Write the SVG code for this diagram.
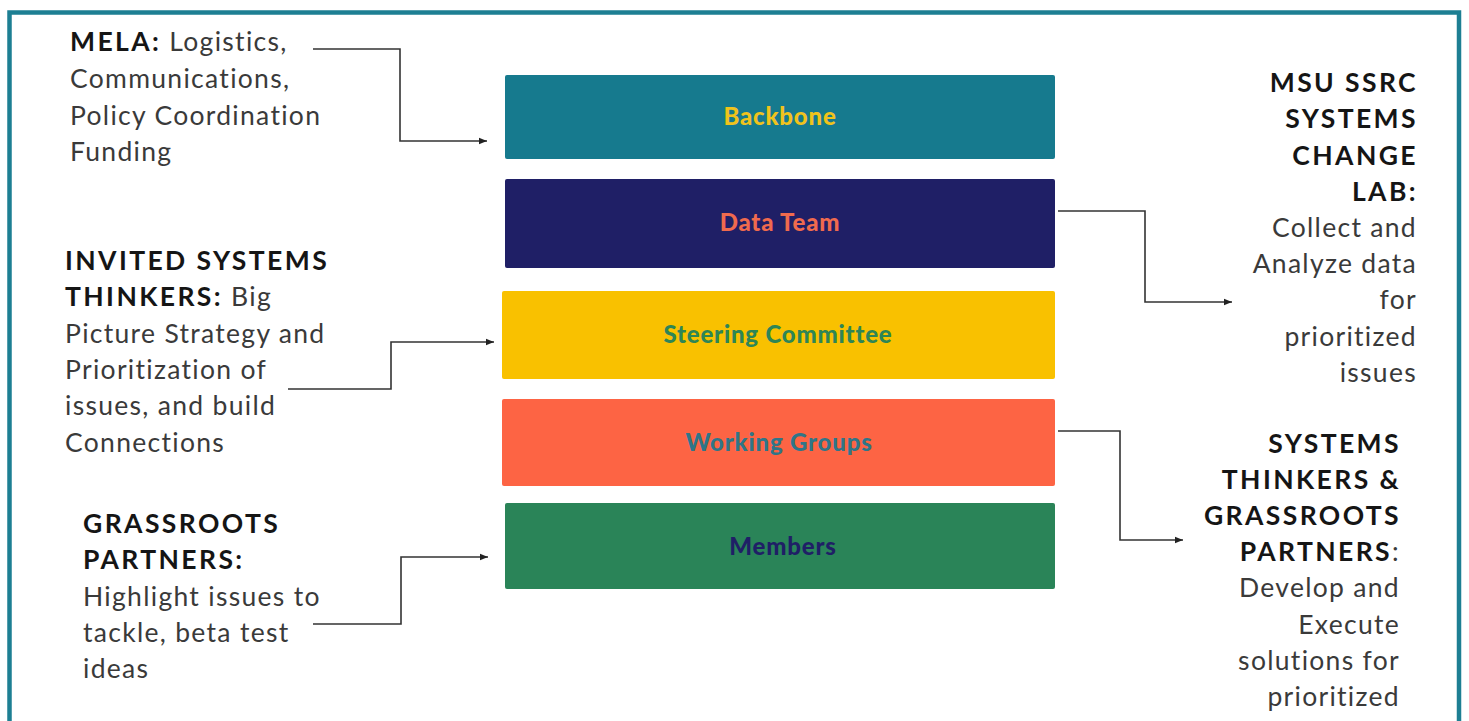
<svg xmlns="http://www.w3.org/2000/svg" width="1469" height="721" viewBox="0 0 1469 721">
<style>
.frame{fill:none;stroke:#1d7f93;stroke-width:4.5}
.lbl{font-family:Lato,"Liberation Sans",sans-serif;font-size:26.5px;fill:#3a3a3a;letter-spacing:1.3px}
.b{font-weight:bold;fill:#151515;letter-spacing:2.4px}
.box{font-family:Lato,"Liberation Sans",sans-serif;font-size:24px;font-weight:900;text-anchor:middle;letter-spacing:0.8px}
.r{text-anchor:end}
.conn path{fill:none;stroke:#333;stroke-width:1.6}
</style>
<defs>
<marker id="ah" viewBox="0 0 10 10" refX="10" refY="5" markerWidth="10" markerHeight="8" markerUnits="userSpaceOnUse" orient="auto">
<path d="M0,1 L10,5 L0,9 z" fill="#222"/>
</marker>
</defs>
<rect width="1469" height="721" fill="#fff"/>
<rect class="frame" x="9.5" y="12.5" width="1449.5" height="740"/>

<g id="backbone">
<rect x="505" y="75" width="550" height="84" rx="2" fill="#167a8e"/>
<text class="box" x="780" y="125" fill="#f0c31c">Backbone</text>
</g>
<g id="data-team">
<rect x="505" y="179" width="550" height="89" rx="2" fill="#1f1f66"/>
<text class="box" x="780" y="231" fill="#f06a4e">Data Team</text>
</g>
<g id="steering-committee">
<rect x="502" y="291" width="553" height="88" rx="2" fill="#f9c100"/>
<text class="box" x="778" y="343" fill="#2e8556">Steering Committee</text>
</g>
<g id="working-groups">
<rect x="502" y="399" width="553" height="87" rx="2" fill="#fd6444"/>
<text class="box" x="779" y="451" fill="#2f7588">Working Groups</text>
</g>
<g id="members">
<rect x="505" y="503" width="550" height="86" rx="2" fill="#2a8458"/>
<text class="box" x="783" y="555" fill="#1f1f66">Members</text>
</g>

<g id="mela">
<text class="lbl" x="70" y="51"><tspan class="b">MELA:</tspan> Logistics,</text>
<text class="lbl" x="70" y="88">Communications,</text>
<text class="lbl" x="70" y="125">Policy Coordination</text>
<text class="lbl" x="70" y="161">Funding</text>
</g>
<g id="invited-systems-thinkers">
<text class="lbl" x="65" y="270"><tspan class="b">INVITED SYSTEMS</tspan></text>
<text class="lbl" x="65" y="306"><tspan class="b">THINKERS:</tspan> Big</text>
<text class="lbl" x="65" y="343">Picture Strategy and</text>
<text class="lbl" x="65" y="379">Prioritization of</text>
<text class="lbl" x="65" y="415">issues, and build</text>
<text class="lbl" x="65" y="452">Connections</text>
</g>
<g id="grassroots-partners">
<text class="lbl b" x="83" y="533">GRASSROOTS</text>
<text class="lbl b" x="83" y="569">PARTNERS:</text>
<text class="lbl" x="83" y="606">Highlight issues to</text>
<text class="lbl" x="83" y="642">tackle, beta test</text>
<text class="lbl" x="83" y="678">ideas</text>
</g>
<g id="msu-ssrc">
<text class="lbl b r" x="1418" y="92">MSU SSRC</text>
<text class="lbl b r" x="1418" y="128">SYSTEMS</text>
<text class="lbl b r" x="1418" y="165">CHANGE</text>
<text class="lbl b r" x="1418" y="201">LAB:</text>
<text class="lbl r" x="1417" y="237">Collect and</text>
<text class="lbl r" x="1417" y="273">Analyze data</text>
<text class="lbl r" x="1417" y="309">for</text>
<text class="lbl r" x="1417" y="346">prioritized</text>
<text class="lbl r" x="1417" y="382">issues</text>
</g>
<g id="systems-thinkers-grassroots">
<text class="lbl b r" x="1401" y="453">SYSTEMS</text>
<text class="lbl b r" x="1401" y="489">THINKERS &amp;</text>
<text class="lbl b r" x="1401" y="525">GRASSROOTS</text>
<text class="lbl r" x="1400" y="561"><tspan class="b">PARTNERS</tspan>:</text>
<text class="lbl r" x="1400" y="597">Develop and</text>
<text class="lbl r" x="1400" y="634">Execute</text>
<text class="lbl r" x="1400" y="670">solutions for</text>
<text class="lbl r" x="1400" y="706">prioritized</text>
</g>

<g id="connectors" class="conn">
<path d="M313,49 H400 V141 H487" marker-end="url(#ah)"/>
<path d="M288,389 H391 V342 H494" marker-end="url(#ah)"/>
<path d="M313,624 H401 V557 H488" marker-end="url(#ah)"/>
<path d="M1058,211 H1145 V302 H1232" marker-end="url(#ah)"/>
<path d="M1058,431 H1120 V540 H1183" marker-end="url(#ah)"/>
</g>
</svg>
